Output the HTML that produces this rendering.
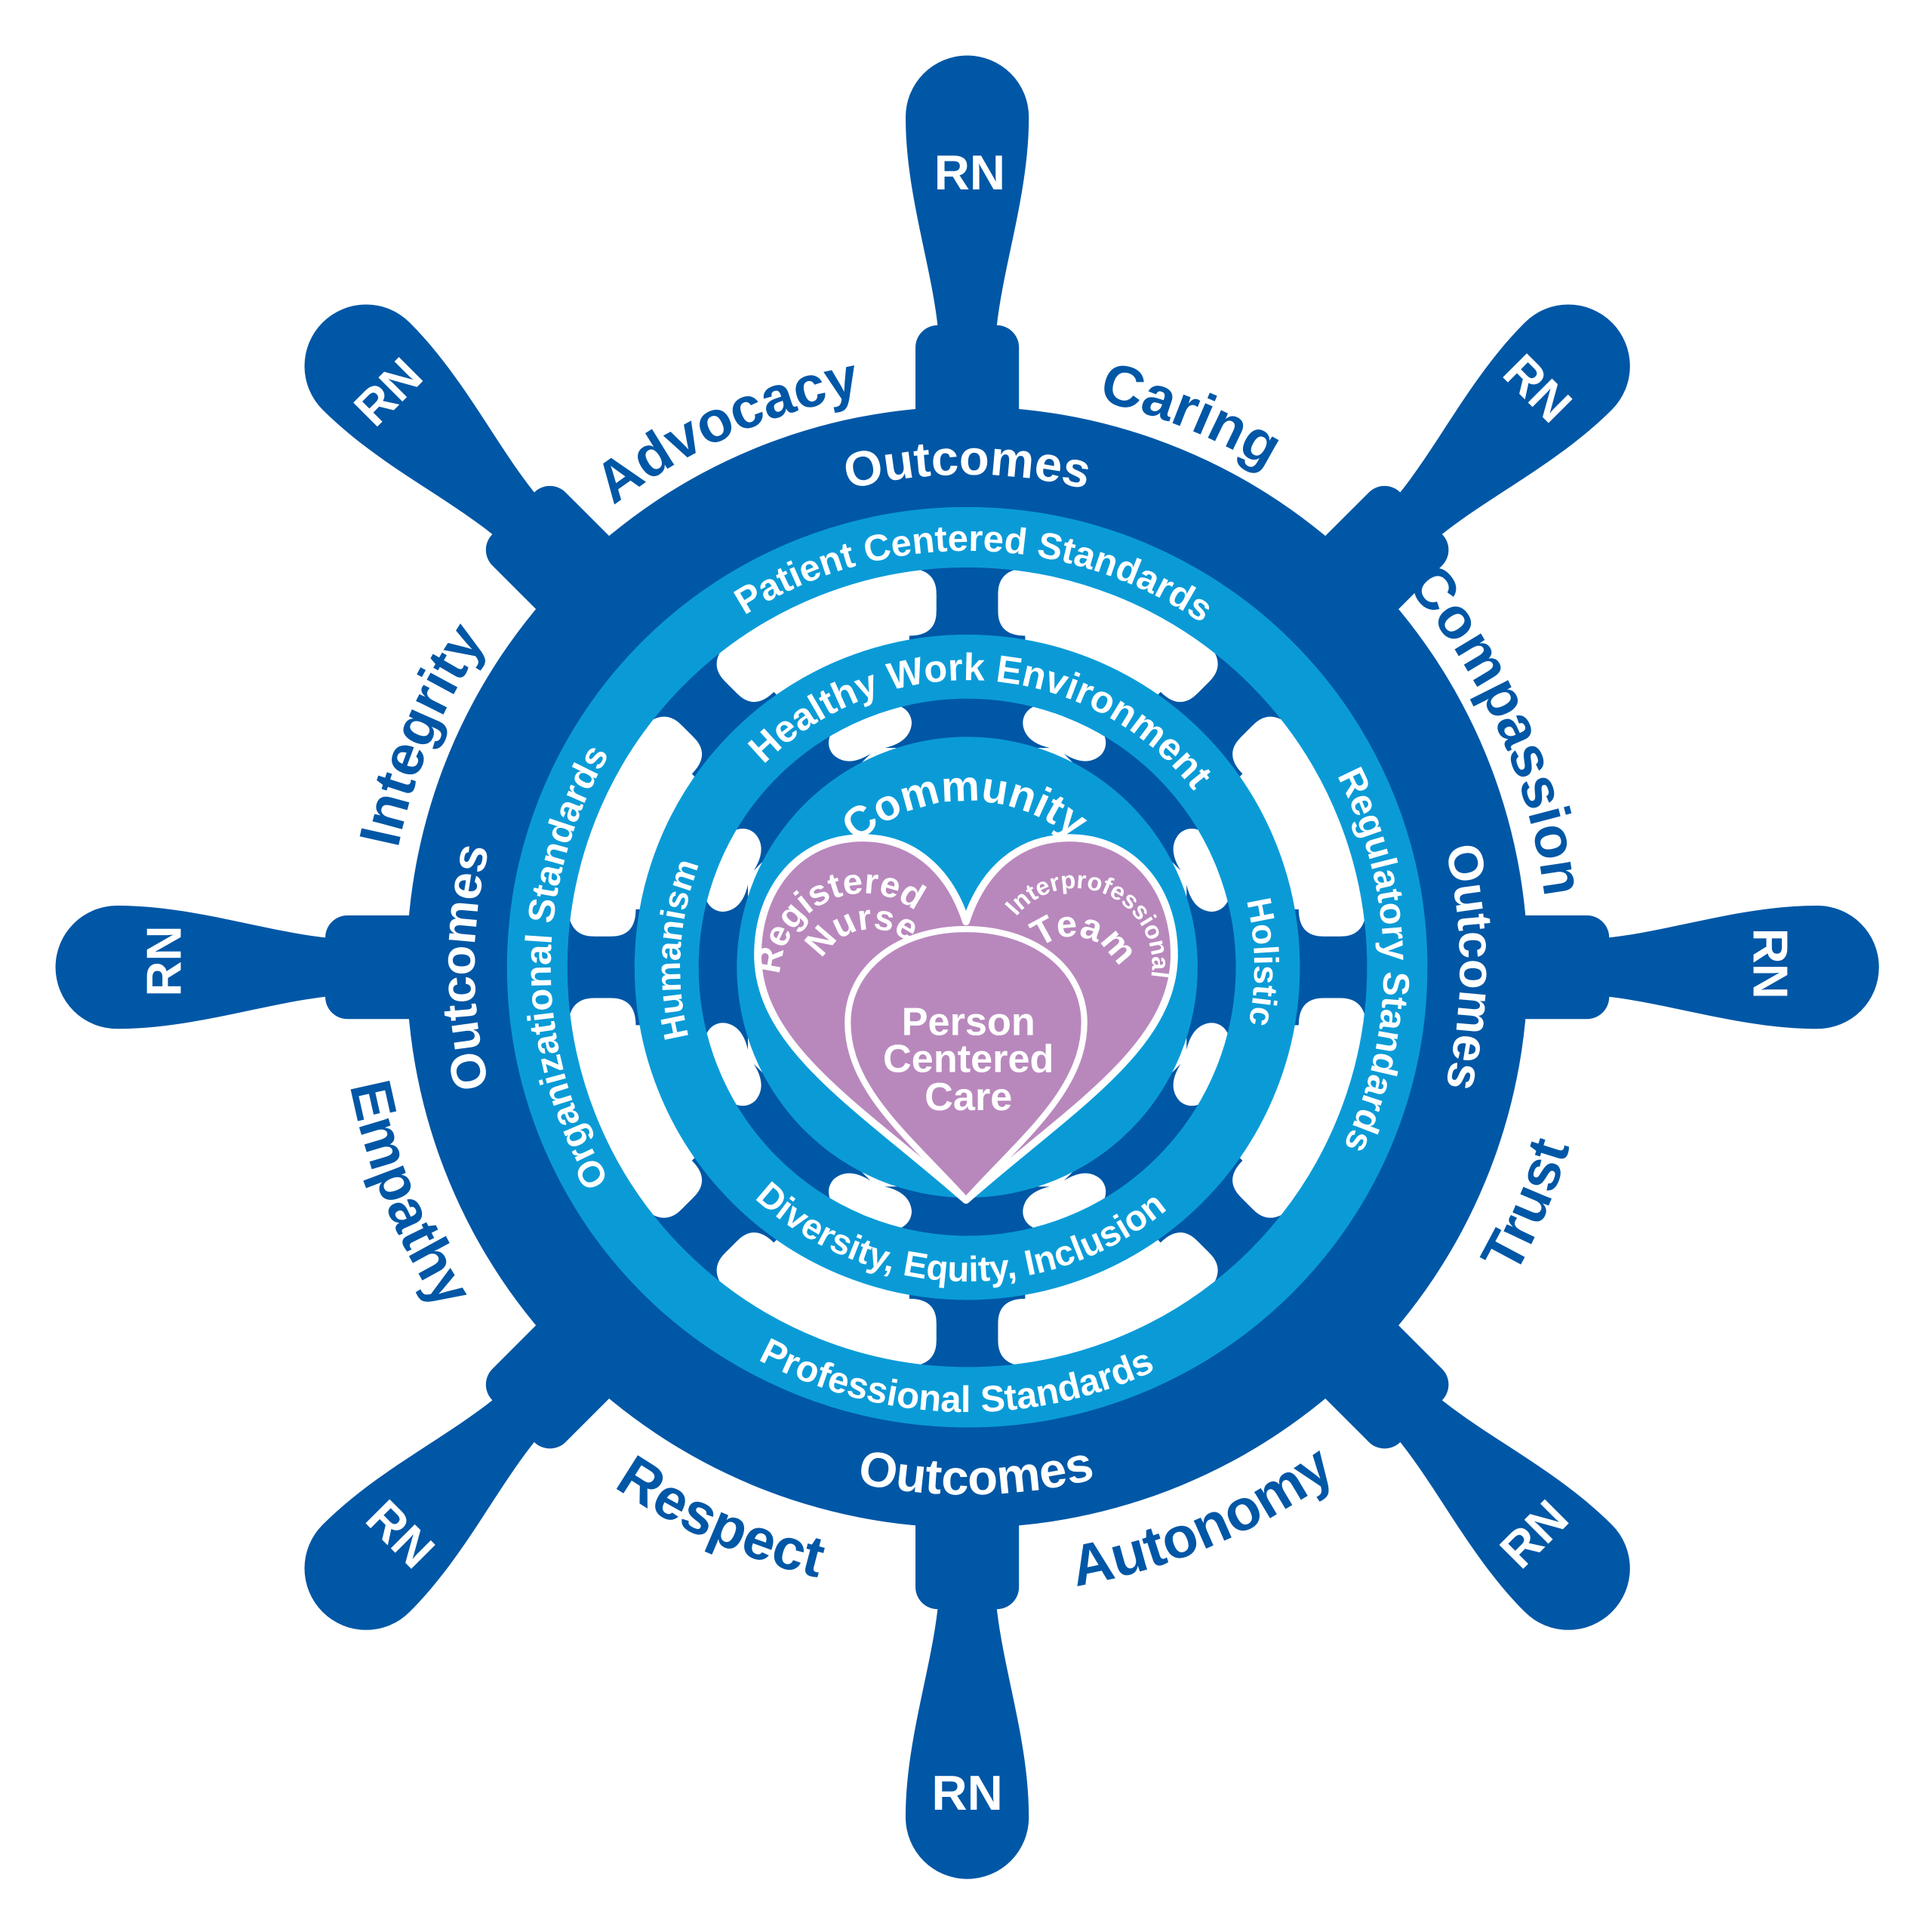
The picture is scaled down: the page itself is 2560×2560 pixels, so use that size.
<!DOCTYPE html>
<html><head><meta charset="utf-8">
<style>
html,body{margin:0;padding:0;background:#fff;}
svg{display:block;}
text{font-family:"Liberation Sans",sans-serif;font-weight:bold;}
</style></head>
<body>
<svg width="2560" height="2560" viewBox="0 0 1568 1568" xmlns="http://www.w3.org/2000/svg">
<defs>
  <g id="handle">
    <rect x="743" y="264" width="84" height="90" rx="18" fill="#0057a6"/>
    <path d="M762,275 C758,220 735,160 735,95 A50,50 0 0 1 835,95 C835,160 812,220 808,275 Z" fill="#0057a6"/>
  </g>
  <g id="spokes" fill="#0057a6">
    <rect x="760" y="440" width="50" height="100"/>
    <path d="M735,455 L835,455 L835,461 Q810,461 810,482 L760,482 Q760,461 735,461 Z"/>
    <path d="M738,516 Q760,516 760,496 L810,496 Q810,516 832,516 L832,525 L738,525 Z"/>
    <rect x="740" y="545" width="90" height="80"/>
    <path d="M712,562 L858,562 L858,570 Q830,570 830,588 L740,588 Q740,570 712,570 Z"/>
    <path d="M718,607 Q740,602 740,585 L830,585 Q830,602 852,607 Z"/>
  </g>
  <path id="cw472" d="M313,785 A472,472 0 0 1 1257,785"/>
  <path id="ccw510" d="M275,785 A510,510 0 0 0 1295,785"/>
  <path id="cw400" d="M385,785 A400,400 0 0 1 1185,785"/>
  <path id="ccw428" d="M357,785 A428,428 0 0 0 1213,785"/>
  <path id="cw338" d="M447,785 A338,338 0 0 1 1123,785"/>
  <path id="ccw361" d="M424,785 A361,361 0 0 0 1146,785"/>
  <path id="cw233" d="M552,785 A233,233 0 0 1 1018,785"/>
  <path id="ccw255" d="M530,785 A255,255 0 0 0 1040,785"/>
  <path id="cw135" d="M650,785 A135,135 0 0 1 920,785"/>
  <path id="regP" d="M633,793 A68,68 0 1 1 769,793"/>
  <path id="nurP" d="M662,800 A46,46 0 0 1 754,800"/>
  <path id="intP" d="M812,794 A62,62 0 1 1 934,794"/>
  <path id="teamP" d="M830,800 A40,40 0 0 1 910,800"/>
</defs>

<use href="#handle" transform="rotate(0 785 785)"/>
<use href="#handle" transform="rotate(45 785 785)"/>
<use href="#handle" transform="rotate(90 785 785)"/>
<use href="#handle" transform="rotate(135 785 785)"/>
<use href="#handle" transform="rotate(180 785 785)"/>
<use href="#handle" transform="rotate(225 785 785)"/>
<use href="#handle" transform="rotate(270 785 785)"/>
<use href="#handle" transform="rotate(315 785 785)"/>

<circle cx="785" cy="785" r="455" fill="#0057a6"/>
<circle cx="785" cy="785" r="372" fill="#fff"/>
<use href="#spokes" transform="rotate(0 785 785)"/>
<use href="#spokes" transform="rotate(45 785 785)"/>
<use href="#spokes" transform="rotate(90 785 785)"/>
<use href="#spokes" transform="rotate(135 785 785)"/>
<use href="#spokes" transform="rotate(180 785 785)"/>
<use href="#spokes" transform="rotate(225 785 785)"/>
<use href="#spokes" transform="rotate(270 785 785)"/>
<use href="#spokes" transform="rotate(315 785 785)"/>
<circle cx="785" cy="785" r="349" fill="none" stroke="#0a9bd7" stroke-width="49"/>
<circle cx="785" cy="785" r="244" fill="none" stroke="#0a9bd7" stroke-width="52"/>
<circle cx="785" cy="785" r="187" fill="#0a9bd7"/>

<path d="M784,748 C770,705 740,680 700,680 C650,680 615,720 615,775 C615,850 700,900 784,974 C868,900 953,850 953,775 C953,720 918,680 868,680 C828,680 798,705 784,748 Z" fill="#b888bd" stroke="#fff" stroke-width="6" stroke-linejoin="round"/>
<path d="M784,974 C740,925 688,885 688,830 C688,785 730,754 784,754 C838,754 880,785 880,830 C880,885 828,925 784,974 Z" fill="#b888bd" stroke="#fff" stroke-width="5" stroke-linejoin="round"/>

<g fill="#fff" font-size="40" text-anchor="middle" dominant-baseline="central">
<text x="787" y="140">RN</text>
<text x="1248" y="315" transform="rotate(45 1248 315)">RN</text>
<text x="1437" y="782" transform="rotate(90 1437 782)">RN</text>
<text x="1245" y="1245" transform="rotate(-45 1245 1245)">RN</text>
<text x="785" y="1455">RN</text>
<text x="325" y="1245" transform="rotate(45 325 1245)">RN</text>
<text x="133" y="780" transform="rotate(-90 133 780)">RN</text>
<text x="315" y="318" transform="rotate(-45 315 318)">RN</text>
</g>

<g fill="#0057a6" font-size="47" text-anchor="middle">
<text transform="rotate(-24 785 785)"><textPath href="#cw472" startOffset="50%">Advocacy</textPath></text>
<text transform="rotate(22 785 785)"><textPath href="#cw472" startOffset="50%">Caring</textPath></text>
<text transform="rotate(66 785 785)"><textPath href="#cw472" startOffset="50%">Compassion</textPath></text>
<text transform="rotate(-67 785 785)"><textPath href="#cw472" startOffset="50%">Integrity</textPath></text>
<text transform="rotate(-67 785 785)"><textPath href="#ccw510" startOffset="50%">Trust</textPath></text>
<text transform="rotate(-23 785 785)"><textPath href="#ccw510" startOffset="50%">Autonomy</textPath></text>
<text transform="rotate(24 785 785)"><textPath href="#ccw510" startOffset="50%">Respect</textPath></text>
<text transform="rotate(68 785 785)"><textPath href="#ccw510" startOffset="50%">Empathy</textPath></text>
</g>

<g fill="#fff" font-size="40" text-anchor="middle">
<text><textPath href="#cw400" startOffset="50%">Outcomes</textPath></text>
<text transform="rotate(-90 785 785)"><textPath href="#cw400" startOffset="50%">Outcomes</textPath></text>
<text transform="rotate(90 785 785)"><textPath href="#cw400" startOffset="50%">Outcomes</textPath></text>
<text transform="rotate(-1 785 785)"><textPath href="#ccw428" startOffset="50%">Outcomes</textPath></text>
</g>

<g fill="#fff" font-size="30" text-anchor="middle">
<text transform="rotate(1 785 785)"><textPath href="#cw338" startOffset="50%">Patient Centered Standards</textPath></text>
<text transform="rotate(-90 785 785)"><textPath href="#cw338" startOffset="50%">Organizational Standards</textPath></text>
<text transform="rotate(89 785 785)"><textPath href="#cw338" startOffset="50%">Regulatory Standards</textPath></text>
<text transform="rotate(1.5 785 785)"><textPath href="#ccw361" startOffset="50%">Professional Standards</textPath></text>
</g>

<g fill="#fff" text-anchor="middle">
<text font-size="31" transform="rotate(3.5 785 785)"><textPath href="#cw233" startOffset="50%">Healthy Work Environment</textPath></text>
<text font-size="29" transform="rotate(1.5 785 785)"><textPath href="#ccw255" startOffset="50%">Diversity, Equity, Inclusion</textPath></text>
<text font-size="28" transform="rotate(-86.5 785 785)"><textPath href="#cw233" startOffset="50%">Humanism</textPath></text>
<text font-size="28" transform="rotate(89 785 785)"><textPath href="#cw233" startOffset="50%">Holistic</textPath></text>
<text font-size="35" transform="rotate(-1 785 785)"><textPath href="#cw135" startOffset="50%">Community</textPath></text>
</g>

<g fill="#fff" text-anchor="middle">
<text font-size="29"><textPath href="#regP" startOffset="36%">Registered</textPath></text>
<text font-size="29"><textPath href="#nurP" startOffset="44%">Nurse</textPath></text>
<text font-size="20"><textPath href="#intP" startOffset="62%">Interprofessional</textPath></text>
<text font-size="30"><textPath href="#teamP" startOffset="58%">Team</textPath></text>
<text font-size="32" x="786" y="840">Person</text>
<text font-size="32" x="786" y="870">Centered</text>
<text font-size="32" x="786" y="901">Care</text>
</g>
</svg>
</body></html>
